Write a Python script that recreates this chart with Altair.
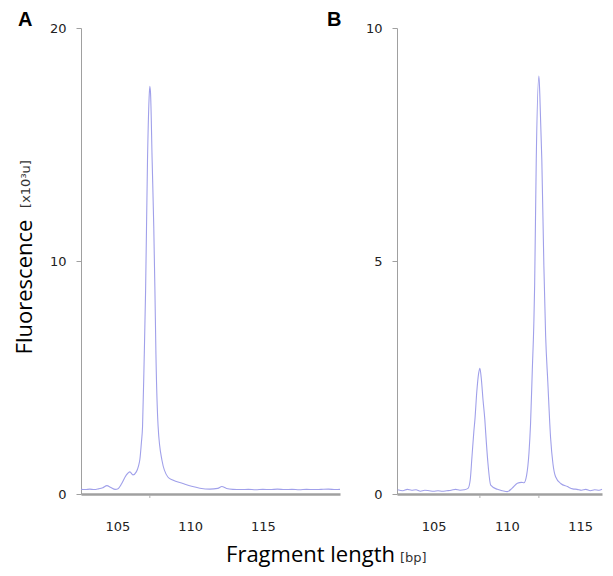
import altair as alt
import pandas as pd

# ---- Panel A trace (fragment length in bp, fluorescence in 10^3 u) ----
a_x = [102.5, 102.8, 103.1, 103.4, 103.7, 104.0, 104.28, 104.55, 104.85, 105.05,
       105.3, 105.6, 105.86, 106.07, 106.3, 106.45, 106.55, 106.65, 106.73, 106.84,
       106.94, 107.07, 107.18, 107.23, 107.28, 107.39, 107.5, 107.58, 107.65, 107.8,
       108.06, 108.47, 108.8, 109.5, 110.1, 110.67, 111.36, 111.9, 112.18, 112.5,
       112.94, 113.5, 114.0, 114.5, 115.0, 115.5, 116.0, 116.5, 117.0, 117.5,
       118.0, 118.5, 119.0, 119.5, 120.0, 120.3]
a_y = [0.2, 0.19, 0.21, 0.19, 0.22, 0.27, 0.36, 0.28, 0.2, 0.23,
       0.45, 0.8, 0.95, 0.82, 0.95, 1.2, 1.5, 2.2, 2.9, 5.75,
       8.75, 14.3, 17.0, 17.5, 17.2, 14.3, 11.5, 8.75, 6.0, 2.9,
       1.46, 0.73, 0.6, 0.45, 0.33, 0.25, 0.21, 0.24, 0.32, 0.24,
       0.2, 0.19, 0.2, 0.18, 0.2, 0.19, 0.21, 0.19, 0.2, 0.18,
       0.2, 0.19, 0.2, 0.21, 0.19, 0.2]

# ---- Panel B trace ----
b_x = [102.55, 102.9, 103.2, 103.5, 103.8, 104.1, 104.4, 104.7, 105.0, 105.3,
       105.6, 105.9, 106.2, 106.5, 106.8, 107.1, 107.35, 107.5, 107.62, 107.75,
       107.82, 107.95, 108.08, 108.16, 108.25, 108.38, 108.5, 108.55, 108.7, 108.9,
       109.35, 109.7, 110.03, 110.35, 110.72, 111.0, 111.17, 111.35, 111.51, 111.62,
       111.74, 111.85, 111.9, 112.01, 112.19, 112.25, 112.39, 112.53, 112.65, 112.8,
       112.99, 113.15, 113.33, 113.7, 114.13, 114.5, 114.8, 115.1, 115.4, 115.7,
       116.0, 116.3, 116.5]
b_y = [0.09, 0.07, 0.1, 0.08, 0.09, 0.06, 0.08, 0.07, 0.06, 0.07,
       0.06, 0.07, 0.08, 0.1, 0.08, 0.09, 0.12, 0.3, 0.8, 1.35,
       1.59, 2.2, 2.6, 2.7, 2.5, 2.0, 1.59, 1.35, 0.7, 0.19,
       0.1, 0.07, 0.05, 0.12, 0.23, 0.25, 0.24, 0.4, 0.87, 1.5,
       2.66, 3.73, 4.48, 7.17, 8.97, 8.6, 7.17, 4.9, 3.4, 2.4,
       1.2, 0.65, 0.37, 0.22, 0.16, 0.11, 0.1, 0.08, 0.1, 0.07,
       0.09, 0.08, 0.1]

a_peaks = [107.23]
b_peaks = [108.16, 112.19]

x_ticks = [105, 110, 115]
a_y_ticks = [0, 10, 20]
b_y_ticks = [0, 5, 10]

a_domain_x = [102.5, 120.3]
b_domain_x = [102.5, 116.5]
a_domain_y = [0, 20]
b_domain_y = [0, 10]

panel_labels = ["A", "B"]
y_title = "Fluorescence"
y_unit = "[x10³u]"
x_title = "Fragment length"
x_unit = "[bp]"

W_A, W_B, H = 259, 205, 466
LINE = "#a0a0ea"
AXIS = "#a0a0a0"
TICKFONT = "DejaVu Sans"
TITLEFONT = "Open Sans"


def txt(s, x, y, **kw):
    return alt.Chart(pd.DataFrame({"t": [s]})).mark_text(**kw).encode(
        x=alt.value(x), y=alt.value(y), text="t:N")


def panel(xs, ys, peaks, xdom, ydom, yticks):
    df = pd.DataFrame({"bp": xs, "f": ys})
    xenc = alt.X("bp:Q", scale=alt.Scale(domain=xdom, nice=False, zero=False),
                 axis=alt.Axis(values=x_ticks, title=None, ticks=False, grid=False,
                               labelPadding=26, labelFont=TICKFONT, labelFontSize=13,
                               labelColor="#222", domainColor=AXIS, domainWidth=2.5,
                               labelFlush=False))
    yenc = alt.Y("f:Q", scale=alt.Scale(domain=ydom, nice=False),
                 axis=alt.Axis(values=yticks, title=None, grid=False, tickSize=5,
                               tickColor=AXIS, domainColor=AXIS, labelPadding=10,
                               labelFont=TICKFONT, labelFontSize=13, labelColor="#222",
                               labelFlush=False))
    line = alt.Chart(df).mark_line(color=LINE, strokeWidth=1.1,
                                   interpolate="monotone").encode(x=xenc, y=yenc)
    pk = alt.Chart(pd.DataFrame({"bp": peaks})).mark_rule(
        color="#b0b0b0", strokeWidth=1).encode(
        x="bp:Q", y=alt.value(H + 1), y2=alt.value(H + 4))
    return line, pk


la, pa = panel(a_x, a_y, a_peaks, a_domain_x, a_domain_y, a_y_ticks)
lb, pb = panel(b_x, b_y, b_peaks, b_domain_x, b_domain_y, b_y_ticks)

# invisible frame fixing the overall extent of the figure
frame = alt.Chart(pd.DataFrame({"k": [0]})).mark_rect(opacity=0).encode(
    x=alt.value(-73), x2=alt.value(W_A), y=alt.value(-20), y2=alt.value(540))

texts_a = [
    txt(panel_labels[0], -63, -18.5, align="left", baseline="top",
        font="Liberation Sans", fontSize=20, fontWeight="bold", color="#000"),
    txt(panel_labels[1], 246, -18.5, align="left", baseline="top",
        font="Liberation Sans", fontSize=20, fontWeight="bold", color="#000"),
    txt(y_title, -49.5, 259, align="center", baseline="alphabetic", angle=270,
        font=TITLEFONT, fontSize=22, color="#000"),
    txt(y_unit, -51, 156, align="center", baseline="alphabetic", angle=270,
        font=TICKFONT, fontSize=13, color="#333"),
    txt(x_title, 314, 534, align="right", baseline="alphabetic",
        font=TITLEFONT, fontSize=22, color="#000"),
    txt(x_unit, 319, 534, align="left", baseline="alphabetic",
        font=TICKFONT, fontSize=13, color="#333"),
]

chart_a = alt.layer(frame, la, pa, *texts_a).properties(width=W_A, height=H)
chart_b = alt.layer(lb, pb).properties(width=W_B, height=H)

chart = alt.hconcat(chart_a, chart_b, spacing=57, bounds="flush").configure_view(
    stroke=None).properties(padding={"left": 0, "top": 0, "right": 0, "bottom": 0})

chart.save("out.html", embed_options={"renderer": "svg", "actions": False})
